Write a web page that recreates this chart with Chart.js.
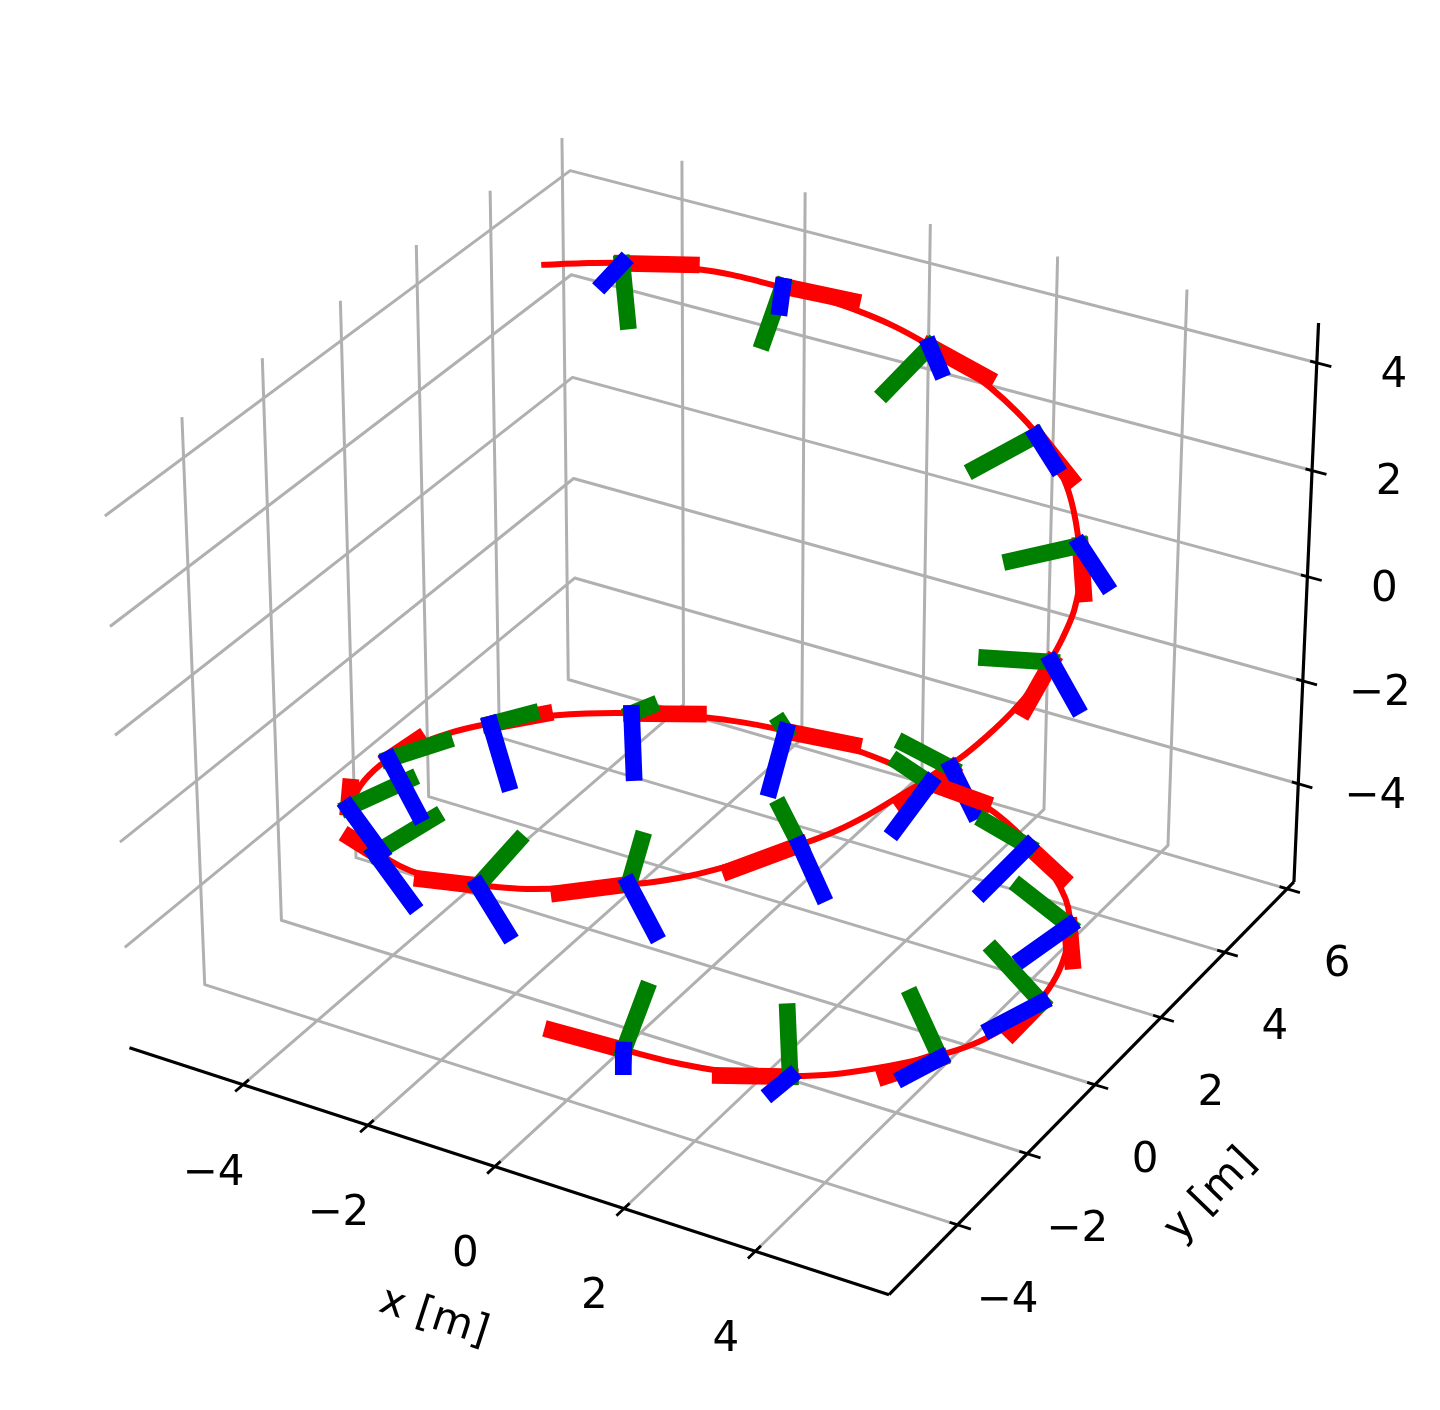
<!DOCTYPE html>
<html>
<head>
<meta charset="utf-8">
<title>Trajetoria 3D</title>
<script src="https://cdn.jsdelivr.net/npm/chart.js@4"></script>
<style>
    html, body { margin: 0; background: #fff; overflow: hidden; }
    #wrap { position: relative; width: 1440px; height: 1410px; }
</style>
</head>
<body>
<div id="wrap"><canvas id="chart3d"></canvas></div>
<script>
// 1. Data (metres)

// axis limits and ticks
const xLimits = [-5.85, 6.0];
const yLimits = [-5.91, 6.22];
const zLimits = [-5.94, 4.73];
const xTicks = [-4, -2, 0, 2, 4];
const yTicks = [-4, -2, 0, 2, 4, 6];
const zTicks = [-4, -2, 0, 2, 4];

// the path
const pathX = [-4.21,-3.87,-3.47,-3.03,-2.61,-2.21,-1.84,-1.47,-0.99,-0.44,0.11,0.67,1.26,1.84,2.37,2.86,3.34,3.82,4.43,4.48,4.58,4.84,4.93,4.95,4.92,4.83,4.69,4.51,4.29,4.02,3.73,3.42,3.02,2.60,2.24,1.87,1.45,0.96,0.43,-0.07,-0.59,-1.19,-1.78,-2.26,-2.73,-3.26,-3.60,-4.82,-4.96,-5.04,-5.02,-4.90,-4.70,-4.46,-4.18,-3.87,-3.58,-3.32,-2.96,-2.52,-2.05,-1.62,-1.12,-0.46,0.19,0.80,1.40,1.98,2.54,3.05,3.61,4.15,4.46,4.46,4.57,4.81,4.93,4.94,4.85,4.70,4.48,4.14,3.74,3.34,2.91,2.46,2.01,1.59,1.11,0.41];
const pathY = [2.72,3.17,3.60,3.96,4.24,4.46,4.62,4.75,4.86,4.93,4.95,4.90,4.78,4.58,4.33,4.02,3.62,3.12,2.18,2.20,1.84,0.98,0.42,-0.10,-0.62,-1.15,-1.66,-2.11,-2.54,-2.95,-3.32,-3.65,-4.00,-4.29,-4.50,-4.67,-4.82,-4.95,-5.03,-5.05,-5.02,-4.92,-4.74,-4.53,-4.27,-3.89,-3.58,-1.56,-0.99,-0.29,0.47,1.18,1.78,2.30,2.76,3.18,3.49,3.73,4.01,4.30,4.53,4.70,4.83,4.93,4.94,4.88,4.74,4.52,4.23,3.87,3.35,2.67,2.19,2.19,1.86,1.13,0.44,-0.32,-1.04,-1.62,-2.17,-2.78,-3.31,-3.72,-4.08,-4.37,-4.61,-4.77,-4.91,-5.04];
const pathZ = [4.49,4.39,4.30,4.20,4.11,4.02,3.92,3.83,3.74,3.64,3.52,3.38,3.24,3.10,2.97,2.86,2.75,2.57,2.56,1.82,1.40,1.45,1.36,1.20,1.06,0.91,0.75,0.63,0.47,0.26,0.08,-0.06,-0.21,-0.39,-0.54,-0.67,-0.80,-0.95,-1.12,-1.29,-1.45,-1.65,-1.85,-1.99,-2.09,-2.18,-2.08,-3.35,-3.39,-3.50,-3.67,-3.82,-3.95,-4.07,-4.18,-4.28,-4.35,-4.41,-4.48,-4.55,-4.62,-4.69,-4.76,-4.83,-4.91,-4.98,-4.94,-4.90,-4.93,-4.95,-4.90,-4.74,-4.68,-5.03,-5.16,-5.02,-4.97,-4.89,-4.81,-4.72,-4.61,-4.51,-4.44,-4.36,-4.26,-4.15,-4.03,-3.93,-3.83,-3.77];

// frame origins along the path
const originX = [-3.47,-1.53,0.72,2.84,4.47,4.92,4.64,3.40,1.47,-0.74,-2.87,-4.61,-5.04,-4.68,-3.40,-1.46,0.84,2.88,4.46,4.92,4.60,3.32,1.39];
const originY = [3.60,4.73,4.89,4.03,2.19,0.52,-1.78,-3.67,-4.81,-5.00,-4.18,-2.10,-0.33,1.84,3.66,4.75,4.87,4.00,2.19,0.47,-1.89,-3.75,-4.84];
const originZ = [4.29,3.87,3.36,2.83,2.35,1.31,0.63,-0.07,-0.79,-1.51,-2.19,-3.22,-3.50,-3.98,-4.40,-4.72,-5.01,-5.00,-4.85,-5.07,-4.73,-4.36,-3.89];

// frame axis tips: red
const redX = [-2.63,-0.64,1.51,3.39,4.67,4.77,4.20,2.70,0.71,-1.40,-3.21,-4.66,-4.76,-4.05,-2.57,-0.57,1.57,3.40,4.62,4.68,4.03,2.51,0.51];
const redY = [4.08,5.13,5.10,4.01,1.93,0.06,-2.31,-4.28,-5.33,-5.34,-4.26,-1.96,0.00,2.30,4.15,5.16,5.14,4.05,1.99,0.08,-2.37,-4.21,-5.21];
const redZ = [4.27,3.66,2.91,2.22,1.67,0.66,0.16,-0.42,-0.91,-1.42,-1.97,-2.93,-3.22,-3.83,-4.41,-4.92,-5.30,-5.46,-5.35,-5.49,-4.98,-4.35,-3.62];

// frame axis tips: green
const greenX = [-3.20,-1.57,0.35,2.23,3.72,4.16,4.03,3.06,1.47,-0.43,-2.30,-3.98,-4.43,-4.22,-3.20,-1.55,0.38,2.27,3.74,4.19,4.07,3.07,1.45];
const greenY = [3.28,4.25,4.30,3.40,1.63,0.10,-1.95,-3.58,-4.47,-4.47,-3.56,-1.50,0.18,2.20,3.84,4.76,4.77,3.85,2.08,0.45,-1.72,-3.38,-4.34];
const greenZ = [3.46,3.08,2.71,2.36,2.13,1.37,0.96,0.44,-0.19,-0.90,-1.69,-2.82,-3.24,-3.82,-4.29,-4.60,-4.70,-4.64,-4.30,-4.34,-3.88,-3.47,-3.07];

// frame axis tips: blue
const blueX = [-3.62,-1.49,0.92,3.17,4.89,5.35,5.03,3.81,1.92,-0.25,-2.27,-4.07,-4.49,-4.26,-3.16,-1.45,0.58,2.49,4.02,4.42,4.25,3.16,1.44];
const blueY = [3.35,4.58,4.82,3.98,2.14,0.43,-1.89,-3.80,-4.92,-5.08,-4.23,-2.14,-0.46,1.60,3.30,4.27,4.32,3.40,1.66,-0.04,-2.25,-3.95,-4.94];
const blueZ = [4.01,3.57,3.02,2.40,1.81,0.70,0.04,-0.74,-1.45,-2.16,-2.89,-3.86,-4.31,-4.85,-5.28,-5.58,-5.70,-5.66,-5.32,-5.44,-4.99,-4.57,-4.12];

// 2. Camera (elev 30, azim -60, dist 10, box aspect 4:4:3)
const boxHalf = 0.5714;
const boxHalfZ = 0.4286;
const camDist = 10;
const camN = [0.4330127, -0.75, 0.5];
const camU = [0.8660254, 0.5, 0];
const camV = [-0.25, 0.4330127, 0.8660254];

function dot(a, b) { return a[0] * b[0] + a[1] * b[1] + a[2] * b[2]; }

function toView(x, y, z) {
    const d = [
        ((x - xLimits[0]) / (xLimits[1] - xLimits[0]) * 2 - 1) * boxHalf,
        ((y - yLimits[0]) / (yLimits[1] - yLimits[0]) * 2 - 1) * boxHalf,
        ((z - zLimits[0]) / (zLimits[1] - zLimits[0]) * 2 - 1) * boxHalfZ
    ];
    const w = camDist - dot(camN, d);
    return { x: dot(camU, d) / w, y: dot(camV, d) / w };
}

// 3. Datasets (listed back to front)
const datasets = [];

function addLine(points, color, width, cap, tension) {
    datasets.push({
        data: points.map(p => toView(p[0], p[1], p[2])),
        borderColor: color,
        borderWidth: width,
        borderCapStyle: cap,
        borderJoinStyle: 'round',
        tension: tension || 0,
        showLine: true,
        pointRadius: 0,
        fill: false
    });
}

const [x0, x1] = xLimits;
const [y0, y1] = yLimits;
const [z0, z1] = zLimits;
const gridColor = '#b0b0b0';

xTicks.forEach(t => addLine([[t, y0, z0], [t, y1, z0], [t, y1, z1]], gridColor, 3, 'butt'));
yTicks.forEach(t => addLine([[x1, t, z0], [x0, t, z0], [x0, t, z1]], gridColor, 3, 'butt'));
zTicks.forEach(t => addLine([[x0, y0, t], [x0, y1, t], [x1, y1, t]], gridColor, 3, 'butt'));

addLine([[x0, y0, z0], [x1, y0, z0]], '#000', 3.2, 'butt');
addLine([[x1, y0, z0], [x1, y1, z0]], '#000', 3.2, 'butt');
addLine([[x1, y1, z0], [x1, y1, z1]], '#000', 3.2, 'butt');

xTicks.forEach(t => addLine([[t, y0 - 0.2, z0], [t, y0 + 0.15, z0]], '#000', 2.8, 'butt'));
yTicks.forEach(t => addLine([[x1 - 0.12, t, z0], [x1 + 0.2, t, z0]], '#000', 2.8, 'butt'));
zTicks.forEach(t => addLine([[x1 - 0.1, y1, t], [x1 + 0.22, y1, t]], '#000', 2.8, 'butt'));

addLine(pathX.map((v, i) => [v, pathY[i], pathZ[i]]), '#ff0000', 6, 'square', 0.35);

originX.forEach((v, i) => {
    const origin = [v, originY[i], originZ[i]];
    addLine([origin, [redX[i], redY[i], redZ[i]]], '#ff0000', 16.7, 'square');
    addLine([origin, [greenX[i], greenY[i], greenZ[i]]], '#008000', 16.7, 'square');
    addLine([origin, [blueX[i], blueY[i], blueZ[i]]], '#0000ff', 16.7, 'square');
});

// 4. Tick labels and axis titles, placed from the scales
const minus = '\u2212';
const tickLabel = v => (v < 0 ? minus + Math.abs(v) : String(v));

const axisText = {
    id: 'axisText',
    afterDatasetsDraw(chart) {
        const { ctx, scales } = chart;
        const put = (p, dx, dy, text, angle) => {
            const view = toView(p[0], p[1], p[2]);
            ctx.save();
            ctx.translate(scales.x.getPixelForValue(view.x) + dx, scales.y.getPixelForValue(view.y) + dy);
            ctx.rotate((angle || 0) * Math.PI / 180);
            ctx.fillText(text, 0, 0);
            ctx.restore();
        };
        ctx.save();
        ctx.font = "42px 'DejaVu Sans'";
        ctx.fillStyle = '#000';
        ctx.textAlign = 'center';
        ctx.textBaseline = 'middle';
        xTicks.forEach(t => put([t, y0, z0], -29.5, 89, tickLabel(t)));
        yTicks.forEach(t => put([x1, t, z0], 50, 76, tickLabel(t)));
        zTicks.forEach(t => put([x1, y1, t], 77, 13, tickLabel(t)));
        put([0, y0, z0], -61, 151, 'x [m]', 18);
        put([x1, 0, z0], 116, 111, 'y [m]', -46);
        ctx.restore();
    }
};

// 5. Chart: scales cover the whole canvas in view-plane units
new Chart(document.getElementById('chart3d'), {
    type: 'scatter',
    data: { datasets: datasets.reverse() }, // the first dataset is painted last
    options: {
        responsive: true,
        maintainAspectRatio: false,
        animation: false,
        events: [],
        layout: { padding: 0 },
        plugins: { legend: { display: false }, tooltip: { enabled: false } },
        scales: {
            x: { type: 'linear', display: false, min: -0.09479, max: 0.09426 },
            y: { type: 'linear', display: false, min: -0.09497, max: 0.09014 }
        }
    },
    plugins: [axisText]
});
</script>
</body>
</html>
